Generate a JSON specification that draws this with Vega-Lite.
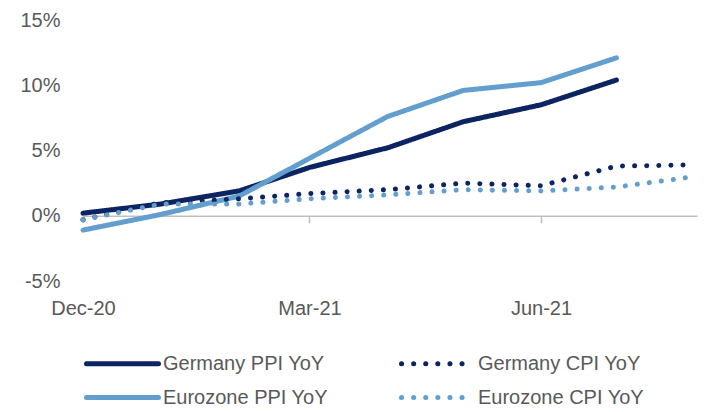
{
  "$schema": "https://vega.github.io/schema/vega-lite/v6.json",
  "width": 614,
  "height": 261,
  "autosize": {"type": "none"},
  "padding": {"left": 83, "top": 20, "right": 13, "bottom": 131},
  "background": "white",
  "config": {"view": {"stroke": null}, "font": "Liberation Sans"},
  "data": {
    "values": [
      {"date": "2020-12-01T00:00", "series": "Germany PPI YoY", "value": 0.2},
      {"date": "2021-01-01T00:00", "series": "Germany PPI YoY", "value": 0.9},
      {"date": "2021-02-01T00:00", "series": "Germany PPI YoY", "value": 1.9},
      {"date": "2021-03-01T00:00", "series": "Germany PPI YoY", "value": 3.7},
      {"date": "2021-04-01T00:00", "series": "Germany PPI YoY", "value": 5.2},
      {"date": "2021-05-01T00:00", "series": "Germany PPI YoY", "value": 7.2},
      {"date": "2021-06-01T00:00", "series": "Germany PPI YoY", "value": 8.5},
      {"date": "2021-07-01T00:00", "series": "Germany PPI YoY", "value": 10.4},
      {"date": "2020-12-01T00:00", "series": "Eurozone PPI YoY", "value": -1.1},
      {"date": "2021-01-01T00:00", "series": "Eurozone PPI YoY", "value": 0.1},
      {"date": "2021-02-01T00:00", "series": "Eurozone PPI YoY", "value": 1.5},
      {"date": "2021-03-01T00:00", "series": "Eurozone PPI YoY", "value": 4.4},
      {"date": "2021-04-01T00:00", "series": "Eurozone PPI YoY", "value": 7.6},
      {"date": "2021-05-01T00:00", "series": "Eurozone PPI YoY", "value": 9.6},
      {"date": "2021-06-01T00:00", "series": "Eurozone PPI YoY", "value": 10.2},
      {"date": "2021-07-01T00:00", "series": "Eurozone PPI YoY", "value": 12.1},
      {"date": "2020-12-01T00:00", "series": "Germany CPI YoY", "value": -0.3},
      {"date": "2021-01-01T00:00", "series": "Germany CPI YoY", "value": 1.0},
      {"date": "2021-02-01T00:00", "series": "Germany CPI YoY", "value": 1.3},
      {"date": "2021-03-01T00:00", "series": "Germany CPI YoY", "value": 1.7},
      {"date": "2021-04-01T00:00", "series": "Germany CPI YoY", "value": 2.0},
      {"date": "2021-05-01T00:00", "series": "Germany CPI YoY", "value": 2.5},
      {"date": "2021-06-01T00:00", "series": "Germany CPI YoY", "value": 2.3},
      {"date": "2021-07-01T00:00", "series": "Germany CPI YoY", "value": 3.8},
      {"date": "2021-08-01T00:00", "series": "Germany CPI YoY", "value": 3.9},
      {"date": "2020-12-01T00:00", "series": "Eurozone CPI YoY", "value": -0.3},
      {"date": "2021-01-01T00:00", "series": "Eurozone CPI YoY", "value": 0.9},
      {"date": "2021-02-01T00:00", "series": "Eurozone CPI YoY", "value": 0.9},
      {"date": "2021-03-01T00:00", "series": "Eurozone CPI YoY", "value": 1.3},
      {"date": "2021-04-01T00:00", "series": "Eurozone CPI YoY", "value": 1.6},
      {"date": "2021-05-01T00:00", "series": "Eurozone CPI YoY", "value": 2.0},
      {"date": "2021-06-01T00:00", "series": "Eurozone CPI YoY", "value": 1.9},
      {"date": "2021-07-01T00:00", "series": "Eurozone CPI YoY", "value": 2.2},
      {"date": "2021-08-01T00:00", "series": "Eurozone CPI YoY", "value": 3.0}
    ]
  },
  "mark": {"type": "line", "strokeWidth": 5, "strokeCap": "round", "strokeJoin": "round"},
  "encoding": {
    "x": {
      "field": "date",
      "type": "temporal",
      "scale": {"domain": [{"year": 2020, "month": 12, "date": 1}, {"year": 2021, "month": 8, "date": 2}]},
      "axis": {
        "title": null,
        "values": [{"year": 2020, "month": 12, "date": 1}, {"year": 2021, "month": 3, "date": 1}, {"year": 2021, "month": 6, "date": 1}],
        "format": "%b-%y",
        "offset": -65.25,
        "domainColor": "#BFBFBF",
        "domainWidth": 1.5,
        "tickColor": "#BFBFBF",
        "tickWidth": 1.5,
        "tickSize": 7,
        "labelPadding": 76,
        "labelFlush": false,
        "labelFontSize": 20,
        "labelColor": "#595959",
        "grid": false
      }
    },
    "y": {
      "field": "value",
      "type": "quantitative",
      "scale": {"domain": [-5, 15]},
      "axis": {
        "title": null,
        "values": [-5, 0, 5, 10, 15],
        "labelExpr": "datum.value + '%'",
        "domain": false,
        "ticks": false,
        "grid": false,
        "labelPadding": 23,
        "labelFontSize": 20,
        "labelColor": "#595959"
      }
    },
    "color": {
      "field": "series",
      "type": "nominal",
      "scale": {
        "domain": ["Germany PPI YoY", "Germany CPI YoY", "Eurozone PPI YoY", "Eurozone CPI YoY"],
        "range": ["#0C2461", "#0C2461", "#629FCF", "#629FCF"]
      },
      "legend": {
        "title": null,
        "orient": "none",
        "legendX": -9,
        "legendY": 331,
        "direction": "horizontal",
        "columns": 2,
        "columnPadding": 61,
        "rowPadding": 11,
        "symbolType": "M0,0H7.2",
        "symbolSize": 400,
        "symbolStrokeWidth": 5,
        "labelOffset": 64,
        "labelFontSize": 20,
        "labelColor": "#595959",
        "labelLimit": 400,
        "encode": {"symbols": {"update": {"strokeCap": {"value": "round"}}}}
      }
    },
    "strokeDash": {
      "field": "series",
      "type": "nominal",
      "scale": {
        "domain": ["Germany PPI YoY", "Germany CPI YoY", "Eurozone PPI YoY", "Eurozone CPI YoY"],
        "range": [[1, 0], [0.1, 12], [1, 0], [0.1, 12]]
      },
      "legend": null
    }
  }
}
